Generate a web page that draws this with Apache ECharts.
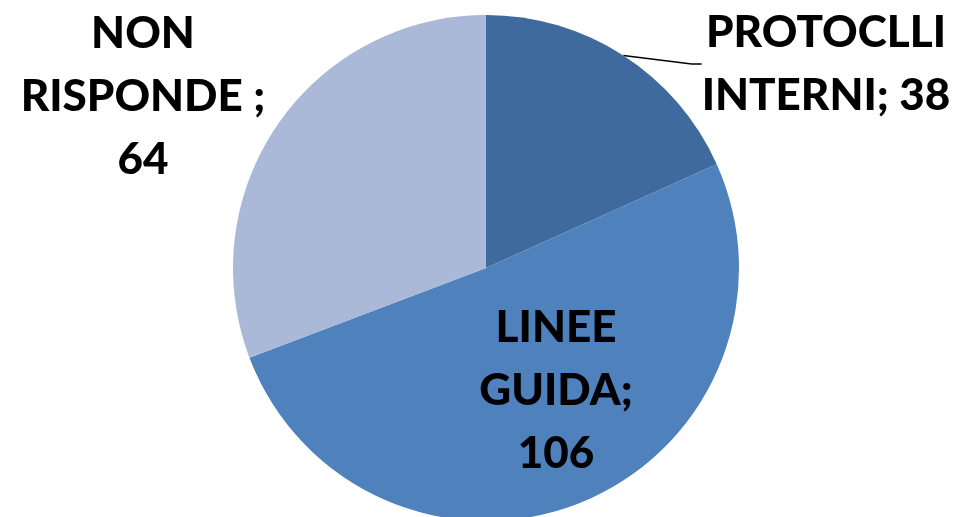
<!DOCTYPE html>
<html>
<head>
<meta charset="utf-8">
<script src="https://cdn.jsdelivr.net/npm/echarts@6/dist/echarts.min.js"></script>
<style>
  html, body { margin: 0; padding: 0; background: #fff; }
  #chart { width: 961px; height: 517px; }
</style>
</head>
<body>
<div id="chart"></div>
<script>
// dati
let categorie = ['PROTOCLLI\nINTERNI', 'LINEE\nGUIDA', 'NON\nRISPONDE '];
let valori = [38, 106, 64];
let colori = ['#3F6A9E', '#4F81BD', '#A9B9D7'];

// posizioni delle etichette (centro del blocco di testo)
let posEtichette = [[826, 64], [556, 391], [143, 97]];

let option = {
    animation: false,
    series: [{
        type: 'pie',
        center: [486, 268],
        radius: 253,
        startAngle: 90,
        clockwise: true,
        data: categorie.map(function (c, i) {
            return {
                name: c,
                value: valori[i],
                itemStyle: { color: colori[i] },
                labelLine: { show: i === 0 }
            };
        }),
        label: {
            show: true,
            formatter: function (p) {
                // la prima etichetta ha il valore sulla stessa riga
                let sep = p.dataIndex === 0 ? '; ' : ';\n';
                return p.name + sep + p.value;
            },
            fontFamily: 'Lato',
            fontWeight: 900,
            fontSize: 44,
            lineHeight: 63,
            color: '#000',
            align: 'center',
            overflow: 'none'
        },
        labelLine: {
            show: true,
            length: 20,
            length2: 10,
            lineStyle: { color: '#000', width: 1.5 }
        },
        labelLayout: function (p) {
            let pos = posEtichette[p.dataIndex];
            return { x: pos[0], y: pos[1], align: 'center', verticalAlign: 'middle' };
        }
    }]
};

let myChart = echarts.init(document.getElementById('chart'));
myChart.setOption(option);
</script>
</body>
</html>
